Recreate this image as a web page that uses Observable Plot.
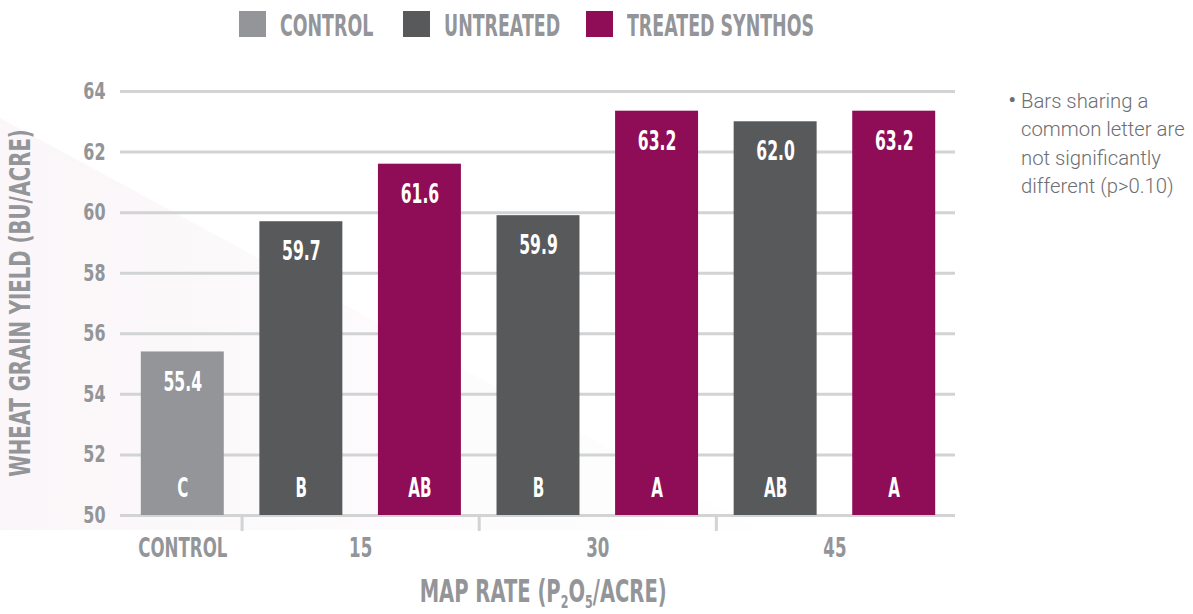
<!DOCTYPE html>
<html>
<head>
<meta charset="utf-8">
<script src="https://cdn.jsdelivr.net/npm/d3@7"></script>
<script src="https://cdn.jsdelivr.net/npm/@observablehq/plot@0.6"></script>
<style>
  html, body { margin: 0; padding: 0; background: #fff; }
  #root { position: relative; width: 1193px; height: 614px; overflow: hidden; }
  .cond { font-family: "DejaVu Sans", sans-serif; font-weight: bold; }
  #wedge { position: absolute; left: 0; top: 0; width: 1193px; height: 614px;
    clip-path: polygon(0px 118px, 760px 530px, 0px 530px);
    background: linear-gradient(90deg, rgba(240,226,235,0.3) 0%, rgba(246,240,244,0.2) 40%, rgba(255,255,255,0) 75%); }
  #legend { position: absolute; left: 0; top: 0; width: 1193px; height: 48px; }
  .sw { position: absolute; top: 11px; width: 27px; height: 26px; }
  .lt { position: absolute; top: 10.6px; color: #939598; font-size: 30px; line-height: 30px; white-space: nowrap;
        transform: scaleX(0.58); transform-origin: left center; }
  #chart { position: absolute; left: 0; top: 48px; }
  #ytitle { position: absolute; left: 21px; top: 303px; color: #939598; font-size: 28.5px; line-height: 28.5px; white-space: nowrap;
        transform: translate(-50%, -50%) rotate(-90deg) scaleX(0.69); }
  #xtitle { position: absolute; left: 0; width: 1086px; top: 576.4px; text-align: center; color: #939598; font-size: 31.5px; line-height: 31.5px; }
  #xtitle span { display: inline-block; white-space: nowrap; transform: scaleX(0.62); transform-origin: center; }
  #xtitle sub { font-size: 57%; vertical-align: -0.36em; line-height: 0; }
  #note { position: absolute; left: 1008px; top: 87px; width: 190px; font-family: Roboto, "Noto Sans", sans-serif; font-weight: 300;
    font-size: 20.3px; line-height: 28.3px; color: #6d6e71; padding-left: 13px; text-indent: -13px; box-sizing: border-box; white-space: nowrap; }
  #note .b { display: inline-block; width: 13px; text-indent: 0; font-size: 26px; line-height: 0; vertical-align: -1px; }
</style>
</head>
<body>
<div id="root">
  <div id="wedge"></div>
  <div id="legend"></div>
  <div id="chart"></div>
  <div id="ytitle" class="cond"></div>
  <div id="xtitle" class="cond"><span>MAP RATE (P<sub>2</sub>O<sub>5</sub>/ACRE)</span></div>
  <div id="note"><span class="b">•</span>Bars sharing a<br>common letter are<br>not significantly<br>different (p&gt;0.10)</div>
</div>
<script>
// ---- data ----
const rates        = ["CONTROL", "15", "15", "30", "30", "45", "45"];
const treatments   = ["CONTROL", "UNTREATED", "TREATED SYNTHOS", "UNTREATED", "TREATED SYNTHOS", "UNTREATED", "TREATED SYNTHOS"];
// bar heights as drawn in the picture
const barHeights   = [55.4, 59.7, 61.6, 59.9, 63.35, 63.0, 63.35];
// value labels as printed on the bars
const valueLabels  = ["55.4", "59.7", "61.6", "59.9", "63.2", "62.0", "63.2"];
const letters      = ["C", "B", "AB", "B", "A", "AB", "A"];
const legendLabels = ["CONTROL", "UNTREATED", "TREATED SYNTHOS"];
const legendColors = ["#939598", "#58595b", "#8f0d57"];
const yTicks = [50, 52, 54, 56, 58, 60, 62, 64];
const yTitle = "WHEAT GRAIN YIELD (BU/ACRE)";

// ---- derived table ----
const bars = barHeights.map((v, i) => ({slot: i, rate: rates[i], treatment: treatments[i], value: v, label: valueLabels[i], letter: letters[i]}));
const groups = Array.from(d3.group(bars, d => d.rate), ([rate, rows]) => ({
  rate, start: d3.min(rows, d => d.slot), end: d3.max(rows, d => d.slot) + 1
}));
const FONT = '"DejaVu Sans", sans-serif';

// ---- legend & titles ----
const legendPos = [239, 403, 586];
const legend = d3.select("#legend");
legendLabels.forEach((l, i) => {
  legend.append("span").attr("class", "sw").style("left", legendPos[i] + "px").style("background", legendColors[i]);
  legend.append("span").attr("class", "lt cond").style("left", (legendPos[i] + 41) + "px").text(l);
});
d3.select("#ytitle").text(yTitle);

const gray = "#939598";
const chart = Plot.plot({
  width: 1193,
  height: 520,
  marginLeft: 123,
  marginRight: 240,
  marginTop: 43,
  marginBottom: 53,
  style: {fontFamily: FONT, background: "transparent", overflow: "visible"},
  x: {domain: [0, bars.length], axis: null},
  y: {domain: [50, 64], axis: null},
  color: {domain: legendLabels, range: legendColors},
  marks: [
    Plot.ruleY(yTicks, {stroke: "#d1d3d4", strokeWidth: 3, insetLeft: -3, insetRight: -2}),
    Plot.ruleX(groups.filter(g => g.start > 0), {x: "start", y1: 50, y2: 50, stroke: "#d1d3d4", strokeWidth: 3, insetBottom: -16, insetTop: 1}),
    Plot.rectY(bars, {x1: "slot", x2: d => d.slot + 1, y1: 50, y2: "value", fill: "treatment", insetLeft: 17.8, insetRight: 17.8}),
    Plot.text(bars, {x: d => d.slot + 0.5, y: "value", text: "label", dy: 30, fill: "white", fontSize: 27, fontWeight: "bold", lineAnchor: "middle"}),
    Plot.text(bars, {x: d => d.slot + 0.5, y: 50, text: "letter", dy: -27, fill: "white", fontSize: 27, fontWeight: "bold", lineAnchor: "middle"}),
    Plot.text(yTicks, {y: d => d, frameAnchor: "left", text: d => String(d), dx: -18, textAnchor: "end", lineAnchor: "middle", fill: gray, fontSize: 23.5, fontWeight: "bold"}),
    Plot.text(groups, {x: d => (d.start + d.end) / 2, y: 50, text: "rate", dy: 33, lineAnchor: "middle", fill: gray, fontSize: 26, fontWeight: "bold"})
  ]
});
document.getElementById("chart").appendChild(chart);

// condense the bold labels horizontally (the original uses a condensed typeface)
const squeeze = [0.58, 0.56, 0.68, 0.64];
chart.querySelectorAll('g[aria-label="text"]').forEach((g, k) => {
  const f = squeeze[k] ?? 0.62;
  g.querySelectorAll("text").forEach(t => {
    const w = t.getComputedTextLength();
    t.setAttribute("textLength", (w * f).toFixed(1));
    t.setAttribute("lengthAdjust", "spacingAndGlyphs");
  });
});
</script>
</body>
</html>
